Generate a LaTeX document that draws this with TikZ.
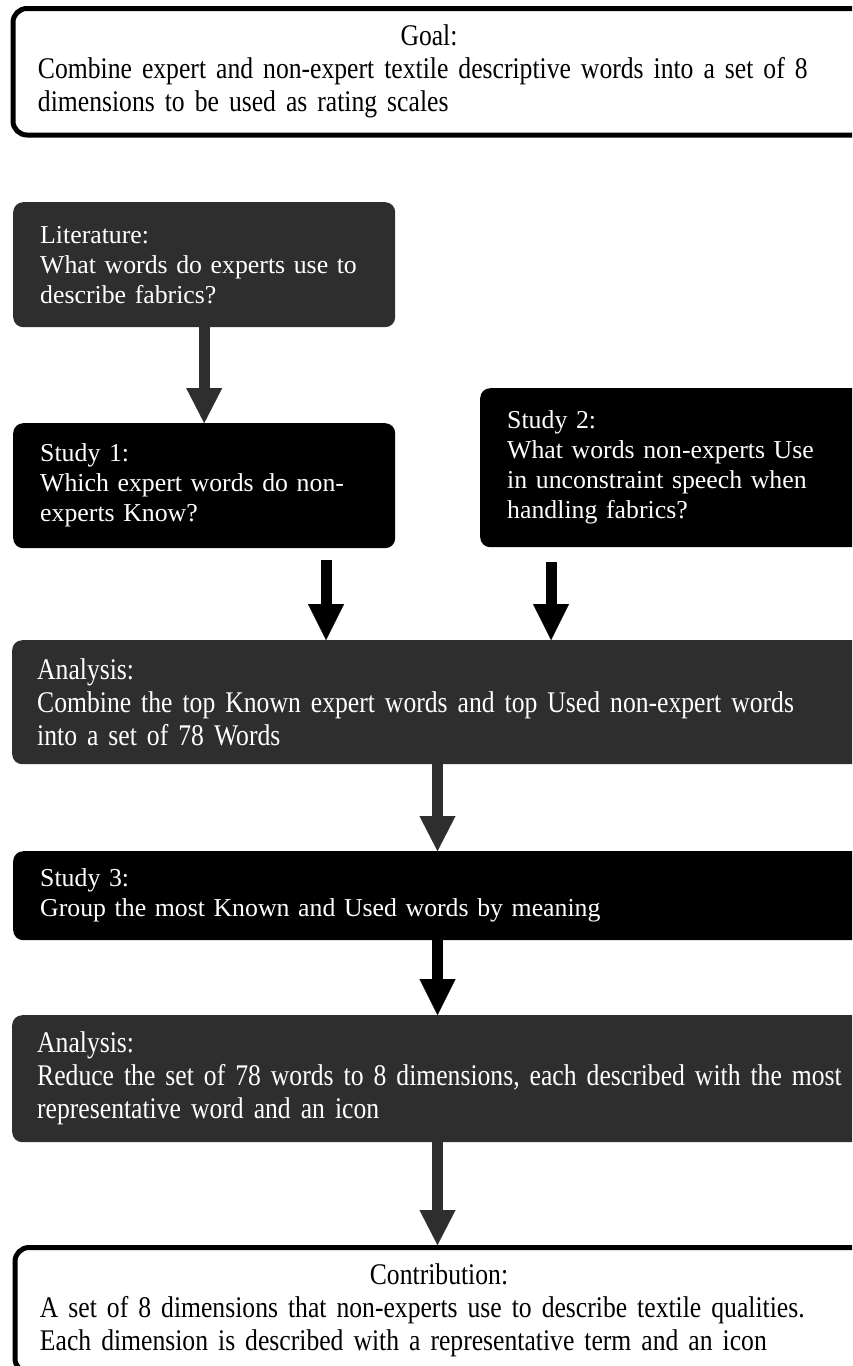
\documentclass[tikz,border=0pt]{standalone}
\usepackage{fontspec}
\setmainfont{Liberation Serif}
\newfontfamily\condfont[FakeStretch=0.855,WordSpace=0.7]{Liberation Serif}
\usetikzlibrary{arrows.meta}
\definecolor{dg}{HTML}{2E2E2E}
\tikzset{
  basebox/.style={anchor=north west, rounded corners=10pt, inner xsep=27pt, inner ysep=0pt, align=left},
  normtext/.style={font=\fontsize{25.8}{30}\selectfont},
  condtext/.style={font=\condfont\fontsize{30}{33}\selectfont, inner xsep=25pt},
  darkbox/.style={basebox, fill=dg, text=white},
  blackbox/.style={basebox, fill=black, text=white},
  outlinebox/.style={basebox, draw=black, line width=5pt, fill=white, text=black, rounded corners=14pt},
  arrdark/.style={draw=dg, line width=11pt, -{Triangle[width=36pt,length=35pt,line width=0.01pt,fill=dg]}},
  arrblack/.style={draw=black, line width=11pt, -{Triangle[width=36pt,length=36pt,line width=0.01pt,fill=black]}}
}
\begin{document}
\begin{tikzpicture}[x=1pt,y=-1pt]
\useasboundingbox (0,0) rectangle (852,1366);
\clip (0,0) rectangle (852,1366);

\node[outlinebox, condtext, minimum width=900pt, minimum height=126.5pt, text width=850pt] (goal) at (10.5,6)
  {\makebox[782pt][c]{Goal:}\\Combine expert and non-expert textile descriptive words into a set of 8\\dimensions to be used as rating scales};

\node[darkbox, normtext, minimum width=382pt, minimum height=125pt, text width=328pt] (lit) at (13,202)
  {Literature:\\What words do experts use to\\describe fabrics?};

\node[blackbox, normtext, minimum width=382pt, minimum height=125pt, text width=328pt] (s1) at (13,423)
  {Study 1:\\Which expert words do non-\\experts Know?};

\node[blackbox, normtext, minimum width=420pt, minimum height=159pt, text width=366pt] (s2) at (480,388)
  {Study 2:\\What words non-experts Use\\in unconstraint speech when\\handling fabrics?};

\node[darkbox, condtext, minimum width=900pt, minimum height=124pt, text width=850pt] (an1) at (12,640)
  {Analysis:\\Combine the top Known expert words and top Used non-expert words\\into a set of 78 Words};

\node[blackbox, normtext, minimum width=900pt, minimum height=89pt, text width=846pt] (s3) at (13,851)
  {Study 3:\\Group the most Known and Used words by meaning};

\node[darkbox, condtext, minimum width=900pt, minimum height=127pt, text width=850pt] (an2) at (12,1015)
  {Analysis:\\Reduce the set of 78 words to 8 dimensions, each described with the most\\representative word and an icon};

\node[outlinebox, condtext, minimum width=900pt, minimum height=125pt, text width=850pt] (con) at (12.5,1245)
  {\makebox[798pt][c]{Contribution:}\\A set of 8 dimensions that non-experts use to describe textile qualities.\\Each dimension is described with a representative term and an icon};

\coordinate (a1) at ([xshift=313pt]s1.south west);
\coordinate (a2) at ([xshift=71pt]s2.south west);
\coordinate (a3) at ([xshift=425.5pt]an1.south west);
\coordinate (a4) at ([xshift=424.5pt]s3.south west);
\coordinate (a5) at ([xshift=425.5pt]an2.south west);

\draw[arrdark] (lit.south) -- (s1.north);
\draw[arrblack] ([yshift=-12pt]a1) -- (a1 |- an1.north);
\draw[arrblack] ([yshift=-15pt]a2) -- (a2 |- an1.north);
\draw[arrdark] (a3) -- (a3 |- s3.north);
\draw[arrblack] (a4) -- (a4 |- an2.north);
\draw[arrdark] (a5) -- (a5 |- con.north);
\end{tikzpicture}
\end{document}
